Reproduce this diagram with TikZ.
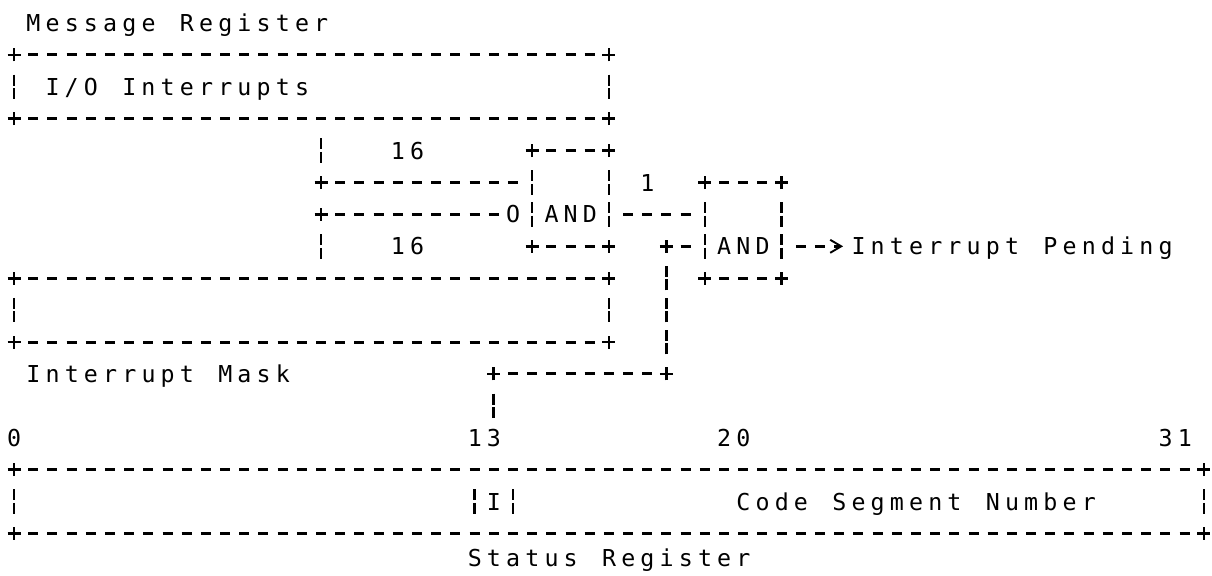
\documentclass[tikz,border=0pt]{standalone}
\usepackage{fontspec}
\newfontfamily\asciifont{DejaVu Sans Mono}
\usetikzlibrary{arrows.meta,fit}
\ExplSyntaxOn
\NewDocumentCommand\mono{m}{\str_map_inline:nn {#1} {\makebox[19.19bp][c]{##1}}}
\ExplSyntaxOff
% ascii-style box: name, col1, row1, col2, row2
\newcommand\asciibox[5]{%
  \coordinate (#1-nw) at (#2,#3);
  \coordinate (#1-ne) at (#4,#3);
  \coordinate (#1-sw) at (#2,#5);
  \coordinate (#1-se) at (#4,#5);
  \node[fit=(#1-nw)(#1-se), inner sep=0pt] (#1) {};
  \draw[hline] (#1-nw) -- (#1-ne);
  \draw[hline] (#1-sw) -- (#1-se);
  \draw[vbar] (#1-nw) -- (#1-sw);
  \draw[vbar] (#1-ne) -- (#1-se);
  \pic at (#1-nw) {asciiplus};
  \pic at (#1-ne) {asciiplus};
  \pic at (#1-sw) {asciiplus};
  \pic at (#1-se) {asciiplus};
}
% text: name, first col, row, text
\newcommand\asciitext[4]{%
  \node[txt] (#1) at (#2-0.5,#3+0.2665) {\mono{#4}};
}
\begin{document}
\begin{tikzpicture}[x=19.19bp, y=-31.9bp,
  hline/.style={line width=3bp, dash pattern=on 10bp off 9.19bp,
    shorten <=14.19bp, shorten >=14.19bp},
  vbar/.style={line width=2.6bp, dash pattern=on 11bp off 2.5bp on 11bp off 7.4bp,
    shorten <=19.65bp, shorten >=19.65bp},
  pluspen/.style={line width=2.6bp},
  txt/.style={font=\asciifont\fontsize{23.3bp}{28bp}\selectfont, inner sep=0pt, anchor=base west},
  pics/asciiplus/.style={code={\draw[pluspen] (-6.5bp,0pt) -- (6.5bp,0pt) (0pt,-6.5bp) -- (0pt,6.5bp);}},
]
\useasboundingbox (-0.7296,-0.721) rectangle (62.428,17.304);

% registers and gates
\asciibox{msg}{0}{1}{31}{3}
\asciibox{mask}{0}{8}{31}{10}
\asciibox{and1}{27}{4}{31}{7}
\asciibox{and2}{36}{5}{40}{8}
\asciibox{status}{0}{14}{62}{16}
\coordinate (ibl-t) at (24,14); \coordinate (ibl-b) at (24,16);
\coordinate (ibr-t) at (26,14); \coordinate (ibr-b) at (26,16);
\draw[vbar] (ibl-t) -- (ibl-b);
\draw[vbar] (ibr-t) -- (ibr-b);

% texts
\asciitext{lmsg}{1}{0}{Message Register}
\asciitext{lio}{2}{2}{I/O Interrupts}
\asciitext{l16a}{20}{4}{16}
\asciitext{l16b}{20}{7}{16}
\asciitext{land1}{28}{6}{AND}
\asciitext{inv}{26}{6}{O}
\asciitext{l1}{33}{5}{1}
\asciitext{land2}{37}{7}{AND}
\asciitext{pend}{44}{7}{Interrupt Pending}
\asciitext{lmask}{1}{11}{Interrupt Mask}
\asciitext{b0}{0}{13}{0}
\asciitext{b13}{24}{13}{13}
\asciitext{b20}{37}{13}{20}
\asciitext{b31}{60}{13}{31}
\asciitext{ibit}{25}{15}{I}
\asciitext{lcsn}{38}{15}{Code Segment Number}
\asciitext{lstat}{24}{16.76}{Status Register}

% connection points
\coordinate (msgtap) at (16,3);
\coordinate (masktap) at (16,8);
\coordinate (j1) at (16,5);
\coordinate (j2) at (16,6);
\coordinate (a1in1) at (27,5);
\coordinate (invc) at (26,6);
\coordinate (a1out) at (31,6);
\coordinate (a2in1) at (36,6);
\coordinate (a2in2) at (36,7);
\coordinate (a2out) at (40,7);
\coordinate (j4) at (25,11);
\coordinate (j5) at (34,11);
\coordinate (j6) at (34,7);
\coordinate (c13) at (25,13);

% connectors
\draw[vbar] (msgtap) -- (j1);
\draw[hline] (j1) -- (a1in1);
\draw[vbar] (masktap) -- (j2);
\draw[hline] (j2) -- (invc);
\draw[hline] (a1out) -- (a2in1);
\draw[vbar] (j4) -- (c13);
\draw[hline] (j4) -- (j5);
\draw[vbar] (j5) -- (j6);
\draw[hline] (j6) -- (a2in2);
\draw[hline, shorten >=5.7bp, -{Straight Barb[length=11bp,width=13bp,line width=1.9bp]}]
  (a2out) -- (pend.west |- a2out);
\pic at (j1) {asciiplus};
\pic at (j2) {asciiplus};
\pic at (j4) {asciiplus};
\pic at (j5) {asciiplus};
\pic at (j6) {asciiplus};
\end{tikzpicture}
\end{document}
